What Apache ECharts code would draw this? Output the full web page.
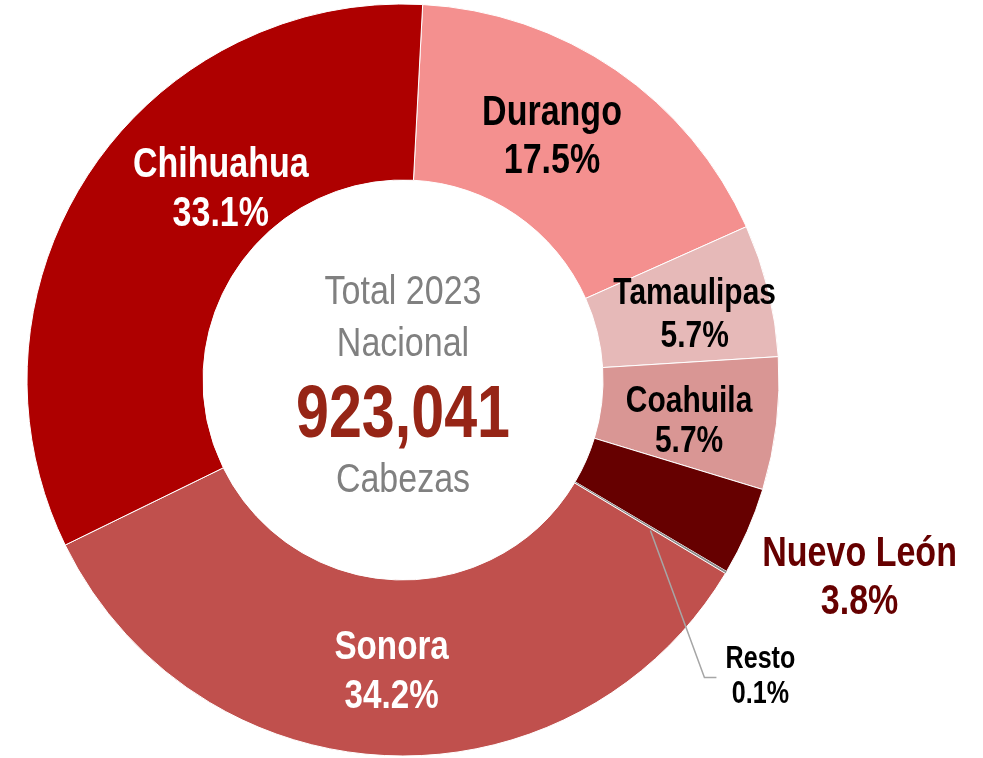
<!DOCTYPE html>
<html>
<head>
<meta charset="utf-8">
<script src="https://cdn.jsdelivr.net/npm/echarts@6/dist/echarts.min.js"></script>
<style>
  html, body { margin: 0; padding: 0; background: #fff; }
  #donut { width: 983px; height: 758px; }
</style>
</head>
<body>
<div id="donut"></div>
<script>
// share of national total, 2023 (%), clockwise from top
var estados = ['Durango', 'Tamaulipas', 'Coahuila', 'Nuevo León', 'Resto', 'Sonora', 'Chihuahua'];
var porcentajes = [17.5, 5.7, 5.7, 3.8, 0.1, 34.2, 33.1];
var totalNacional = '923,041';
var centerLines = ['Total 2023', 'Nacional', 'Cabezas'];

var colores = ['#F4908F', '#E6B9B8', '#D99694', '#660000', '#8C8C8C', '#C0504D', '#AE0000'];
var labelColors = ['#000', '#000', '#000', '#660000', '#000', '#fff', '#fff'];
var labelSizes = [42, 37, 37, 42, 31, 41, 42];
var labelLineH = [48, 43, 40, 48, 35, 49, 49];
// nudges from the middle of each ring segment
var labelShift = [[-14, -5], [12, 4], [0, 8], [193, 82], [110, 150], [1, 4], [58, -31]];

// no narrow font installed: squeeze regular glyphs horizontally
var FONT = '"Liberation Sans", Arial, sans-serif';
var SQUEEZE = 0.81;
var cx = 403, cy = 380, rIn = 200, rOut = 376, startDeg = 87;

var myChart = echarts.init(document.getElementById('donut'));

function centerText(txt, dy, font, color) {
  return {
    type: 'text', x: cx, y: cy + dy, scaleX: 0.85, z: 10,
    style: { text: txt, fill: color, font: font, align: 'center', verticalAlign: 'middle' }
  };
}

var graphics = [
  centerText(centerLines[0], -87, '40px ' + FONT, '#808080'),
  centerText(centerLines[1], -35, '40px ' + FONT, '#808080'),
  centerText(totalNacional, 37, 'bold 74px ' + FONT, '#962516'),
  centerText(centerLines[2], 101, '40px ' + FONT, '#808080')
];
graphics[2].scaleX = 0.8;

// labels anchored at each segment's mid angle / mid radius
var total = porcentajes.reduce(function (a, b) { return a + b; }, 0);
var acc = 0;
var rm = (rIn + rOut) / 2;
porcentajes.forEach(function (v, i) {
  var ang = (90 - startDeg + (acc + v / 2) / total * 360) * Math.PI / 180;
  acc += v;
  var ax = cx + rm * Math.sin(ang), ay = cy - rm * Math.cos(ang);
  var lx = ax + labelShift[i][0], ly = ay + labelShift[i][1];
  graphics.push({
    type: 'text', x: lx, y: ly, scaleX: SQUEEZE, z: 10,
    style: {
      text: estados[i] + '\n' + v.toFixed(1) + '%',
      fill: labelColors[i],
      font: 'bold ' + labelSizes[i] + 'px ' + FONT,
      lineHeight: labelLineH[i],
      align: 'center',
      verticalAlign: 'middle'
    }
  });
  if (estados[i] === 'Resto') {
    var ex = lx - 44;
    graphics.push({
      type: 'polyline', z: 9,
      shape: { points: [[ax, ay + 3], [ex - 12, ly], [ex, ly]] },
      style: { stroke: '#A6A6A6', lineWidth: 1.5, fill: null }
    });
  }
});

var option = {
  animation: false,
  graphic: graphics,
  series: [{
    type: 'pie',
    center: [cx, cy],
    radius: [rIn, rOut],
    startAngle: startDeg,
    clockwise: true,
    label: { show: false },
    labelLine: { show: false },
    emphasis: { disabled: true },
    data: estados.map(function (n, i) {
      return {
        name: n,
        value: porcentajes[i],
        itemStyle: {
          color: colores[i],
          borderColor: '#fff',
          borderWidth: n === 'Resto' ? 0 : 1
        }
      };
    })
  }]
};

myChart.setOption(option);
window.addEventListener('resize', myChart.resize);
</script>
</body>
</html>
